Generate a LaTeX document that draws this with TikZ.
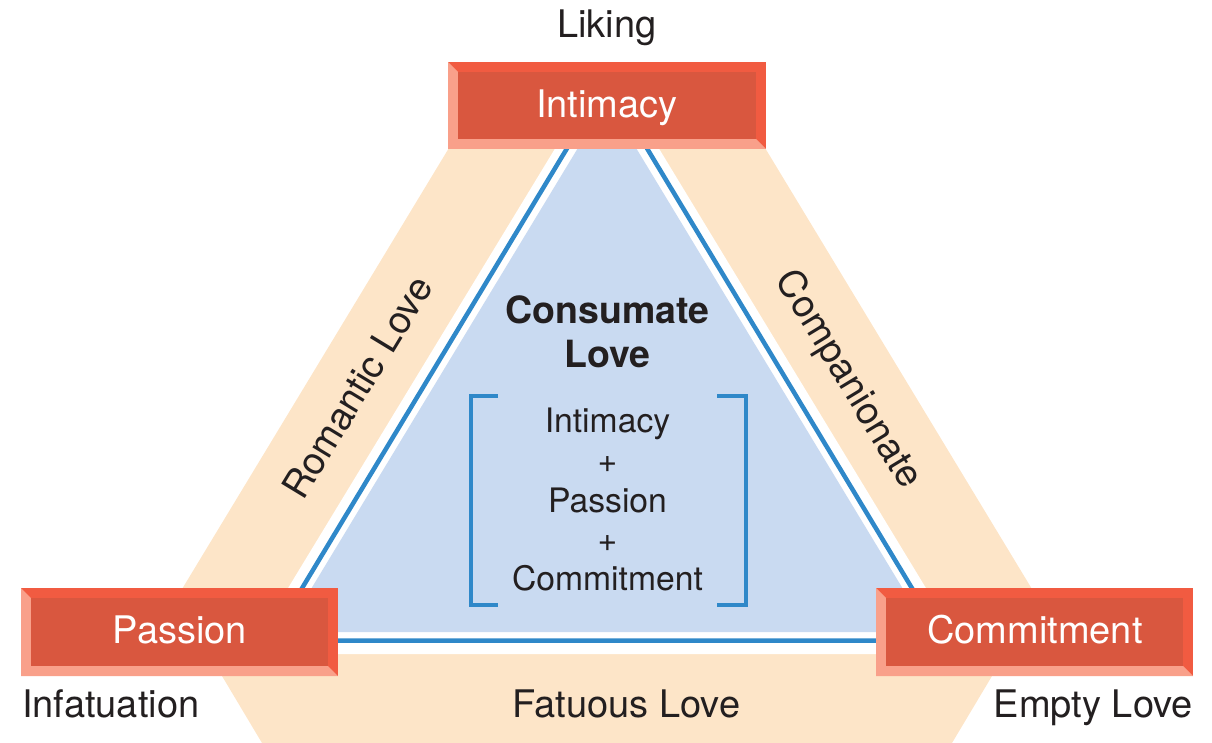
\documentclass[tikz,border=0pt]{standalone}
\usepackage{fontspec}
\setmainfont{TeX Gyre Heros}
\definecolor{peach}{HTML}{FDE5C8}
\definecolor{bluefill}{HTML}{C9DAF1}
\definecolor{blueline}{HTML}{2F88C9}
\definecolor{boxface}{HTML}{D9573F}
\definecolor{bevdark}{HTML}{F15B41}
\definecolor{bevlight}{HTML}{F9A08A}
\definecolor{ink}{HTML}{231F20}
\newcommand{\bevbox}[4]{%
  \fill[bevdark] (#1,#2) rectangle (#3,#4);
  \fill[bevlight] (#1,#2) -- (#1+10,#2+10) -- (#1+10,#4-10) -- (#3-10,#4-10) -- (#3,#4) -- (#1,#4) -- cycle;
  \fill[boxface] (#1+10,#2+10) rectangle (#3-10,#4-10);
}
\tikzset{
  lbl/.style={inner sep=0pt, text=ink, font=\fontsize{38}{44}\selectfont},
  boxlbl/.style={inner sep=0pt, text=white, font=\fontsize{38}{44}\selectfont, anchor=base},
  inlbl/.style={inner sep=0pt, text=ink, font=\fontsize{33.7}{40}\selectfont, anchor=base},
  boldlbl/.style={inner sep=0pt, text=ink, font=\fontsize{37.5}{44}\selectfont\bfseries, anchor=base},
  bandlbl/.style={lbl, text depth=0pt, anchor=center},
  bluestroke/.style={draw=blueline, line width=4.5pt, line join=miter},
}
\begin{document}
\begin{tikzpicture}[x=1pt,y=-1pt]
\useasboundingbox (0,0) rectangle (1212,743);
% peach band
\fill[peach] (478,100) -- (176,599) -- (262,743) -- (952,743) -- (1038,599) -- (736,100) -- cycle;
% white gap
\fill[white] (607,63) -- (248,654) -- (966,654) -- cycle;
% blue outline
\draw[bluestroke] (607,82) -- (270.5,640.5) -- (943.5,640.5) -- cycle;
% blue fill
\fill[bluefill] (607,100) -- (285,632) -- (929,632) -- cycle;
% brackets
\draw[draw=blueline, line width=4pt] (498,396) -- (471,396) -- (471,605) -- (498,605);
\draw[draw=blueline, line width=4pt] (717,396) -- (746,396) -- (746,605) -- (717,605);
% boxes
\bevbox{448}{62}{766}{149}
\bevbox{21}{588}{338}{676}
\bevbox{876}{588}{1193}{676}
\node[boxlbl] (intimacy) at (607,118) {Intimacy};
\node[boxlbl] (passion) at (180,643) {Passion};
\node[boxlbl] (commitment) at (1035,643) {Commitment};
% outer labels
\node[lbl, anchor=base] (liking) at (607,38) {Liking};
\node[lbl, anchor=base west] (infatuation) at (22,717) {Infatuation};
\node[lbl, anchor=base east] (empty) at (1193,717) {Empty Love};
\node[lbl, anchor=base] (fatuous) at (626.5,717) {Fatuous Love};
\node[bandlbl, rotate=58.7] (romantic) at (357,387) {Romantic Love};
\node[bandlbl, rotate=-58.7] (companionate) at (851,378) {Companionate};
% centre
\node[boldlbl] (consumate) at (607.5,323) {Consumate};
\node[boldlbl] (love) at (607.5,367) {Love};
\node[inlbl] (inA) at (607.5,432) {Intimacy};
\node[inlbl] (plusA) at (607.5,472) {+};
\node[inlbl] (inB) at (607.5,512) {Passion};
\node[inlbl] (plusB) at (607.5,551) {+};
\node[inlbl] (inC) at (607.5,590) {Commitment};
\end{tikzpicture}
\end{document}
